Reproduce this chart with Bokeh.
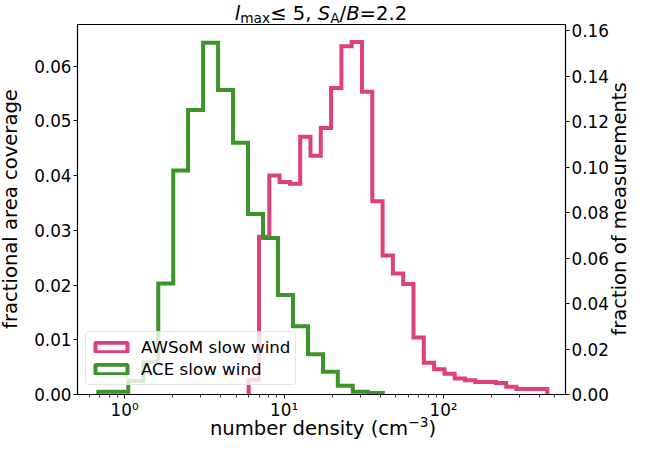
from bokeh.plotting import figure
from bokeh.layouts import row, column
from bokeh.models import (Range1d, LinearAxis, FixedTicker, PrintfTickFormatter,
                          Legend, LegendItem, Div)
from bokeh.embed import file_html
from bokeh.resources import INLINE

# ---------------- data ----------------
ace_edges = [0.684, 0.849, 1.054, 1.309, 1.626, 2.018, 2.500, 3.105, 3.855, 4.786,
             5.943, 7.379, 9.162, 11.38, 14.13, 17.54, 21.73, 26.98, 33.50, 41.59]
ace_fraction = [0.0012, 0.0012, 0.0059, 0.0142, 0.0488, 0.0985, 0.1252, 0.1548, 0.1340,
                0.1108, 0.0794, 0.0688, 0.0438, 0.0300, 0.0177, 0.0100, 0.0039, 0.0012, 0.0007]

awsom_edges = [5.998, 6.961, 8.077, 9.372, 10.87, 12.62, 14.64, 16.99, 19.71, 22.88,
               26.55, 30.81, 35.74, 41.48, 48.13, 55.85, 64.81, 75.20, 87.26, 101.3,
               117.5, 136.3, 158.2, 183.6, 213.0, 247.2, 286.8, 332.8, 386.2, 448.1]
awsom_fraction = [0.0027, 0.0288, 0.0400, 0.0388, 0.0385, 0.0471, 0.0436, 0.0487, 0.0560,
                  0.0636, 0.0644, 0.0553, 0.0353, 0.0254, 0.0221, 0.0202, 0.0104, 0.0058,
                  0.0046, 0.0038, 0.0029, 0.0026, 0.0023, 0.0023, 0.0021, 0.0014, 0.0010,
                  0.0010, 0.0010]

series_labels = ["AWSoM slow wind", "ACE slow wind"]
x_major_ticks = [1.0, 10.0, 100.0]
x_major_labels = ["10\u2070", "10\u00b9", "10\u00b2"]
x_minor_ticks = [0.6, 0.7, 0.8, 0.9, 2, 3, 4, 5, 6, 7, 8, 9,
                 20, 30, 40, 50, 60, 70, 80, 90, 200, 300, 400, 500]
left_ticks = [0.00, 0.01, 0.02, 0.03, 0.04, 0.05, 0.06]
right_ticks = [0.00, 0.02, 0.04, 0.06, 0.08, 0.10, 0.12, 0.14, 0.16]
SUP = '<span style="font-size:0.7em;position:relative;top:-0.6em">'
SUB = '<span style="font-size:0.7em;position:relative;top:2.4px">'
x_label_html = "number density (cm" + SUP + "\u22123</span>)"
left_label = "fractional area coverage"
right_label = "fraction of measurements"
title_html = ("<i>l</i>" + SUB + "max</span>\u2264 5, <i>S</i>" + SUB + "A</span>"
              "/<i>B</i>=2.2")

PINK = "#e0407a"
GREEN = "#3d9428"
FONT = "DejaVu Sans"
CSS_FONT = ("font-family:DejaVu Sans;font-size:19.6px;line-height:19.6px;color:#000;"
            "white-space:nowrap;")

# page geometry (pixels)
TITLE_H, PLOT_H, XLAB_H = 16, 406, 17
LEFT_W, PLOT_W, RIGHT_W = 31, 580, 18
FULL_W = LEFT_W + PLOT_W + RIGHT_W
MID_Y = (24 + 394) / 2 - TITLE_H          # vertical centre of the frame inside the middle row


def step_outline(edges, vals):
    xs, ys = [edges[0]], [0.0]
    for i, v in enumerate(vals):
        xs += [edges[i], edges[i + 1]]
        ys += [v, v]
    xs.append(edges[-1])
    ys.append(0.0)
    return xs, ys


p = figure(width=PLOT_W, height=PLOT_H, x_axis_type="log",
           x_range=Range1d(0.5064, 582.0), y_range=Range1d(0, 0.06759),
           output_backend="svg", toolbar_location=None,
           min_border_left=44, min_border_right=44, min_border_top=24 - TITLE_H,
           min_border_bottom=28)
try:
    p.title = None
except Exception:
    p.title.visible = False
p.extra_y_ranges = {"right": Range1d(0, 0.16278)}
p.xgrid.visible = False
p.ygrid.visible = False
p.outline_line_color = "black"
p.outline_line_width = 1.1
p.background_fill_color = "white"
p.border_fill_alpha = 0.0

ax_, ay_ = step_outline(awsom_edges, awsom_fraction)
p.line(ax_, ay_, line_color=PINK, line_width=4, line_join="miter")
gx_, gy_ = step_outline(ace_edges, ace_fraction)
p.line(gx_, gy_, line_color=GREEN, line_width=4, line_join="miter", y_range_name="right")

right_axis = LinearAxis(y_range_name="right")
p.add_layout(right_axis, "right")

xa = p.xaxis[0]
xa.ticker = FixedTicker(ticks=x_major_ticks, minor_ticks=x_minor_ticks)
xa.major_label_overrides = {t: s for t, s in zip(x_major_ticks, x_major_labels)}

ly = p.yaxis[0]
ly.ticker = FixedTicker(ticks=left_ticks)
ly.formatter = PrintfTickFormatter(format="%.2f")

right_axis.ticker = FixedTicker(ticks=right_ticks)
right_axis.formatter = PrintfTickFormatter(format="%.2f")

for ax in (xa, ly, right_axis):
    ax.axis_label = None
    ax.axis_line_color = "black"
    ax.axis_line_width = 1.1
    ax.major_tick_line_color = "black"
    ax.major_tick_line_width = 1.1
    ax.major_tick_in = 0
    ax.major_tick_out = 4
    ax.minor_tick_in = 0
    ax.minor_tick_out = 3
    ax.minor_tick_line_color = "black"
    ax.minor_tick_line_width = 0.8
    ax.major_label_text_font = FONT
    ax.major_label_text_font_size = "16.8px"
    ax.major_label_text_color = "black"
    ax.major_label_standoff = 2
for ax in (ly, right_axis):
    ax.minor_tick_line_color = None
xa.major_label_standoff = 1

# legend handles: outlined rectangles (renderers hidden, shown only in the legend)
r_p = p.quad(left=awsom_edges[:-1], right=awsom_edges[1:], bottom=0, top=awsom_fraction,
             fill_alpha=0, line_color=PINK, line_width=4, visible=False)
r_g = p.quad(left=ace_edges[:-1], right=ace_edges[1:], bottom=0, top=ace_fraction,
             fill_alpha=0, line_color=GREEN, line_width=4, visible=False,
             y_range_name="right")
legend = Legend(items=[LegendItem(label=series_labels[0], renderers=[r_p]),
                       LegendItem(label=series_labels[1], renderers=[r_g])],
                location=(8, 9), margin=0, padding=5, spacing=2,
                glyph_width=40, glyph_height=12, label_height=20, label_standoff=10,
                label_text_font=FONT, label_text_font_size="16.7px", label_text_color="black",
                border_line_color="#cccccc", border_line_width=1,
                background_fill_color="white", background_fill_alpha=0.8,
                inactive_fill_alpha=0.0)
if "border_radius" in Legend.properties():
    legend.border_radius = 4
p.add_layout(legend)


def box(inner, w, h):
    return Div(text=f'<div style="position:relative;width:{w}px;height:{h}px;overflow:visible">'
                    f'{inner}</div>', width=w, height=h, margin=(0, 0, 0, 0))


def vertical_text(text, x_line_left, w, h):
    # reads bottom-to-top, centred on the plot frame
    return box(f'<span style="position:absolute;left:0;top:0;transform-origin:0 0;'
               f'transform:translate({x_line_left}px,{MID_Y}px) rotate(-90deg) translate(-50%,0);'
               f'{CSS_FONT}">{text}</span>', w, h)


title_div = box(f'<span style="position:absolute;left:321px;top:4.4px;'
                f'transform:translateX(-50%);{CSS_FONT}">{title_html}</span>', FULL_W, TITLE_H)
left_div = vertical_text(left_label, 1.0, LEFT_W, PLOT_H)
right_div = vertical_text(right_label, -0.6, RIGHT_W, PLOT_H)
xlab_div = box(f'<span style="position:absolute;left:323px;top:-2.6px;'
               f'transform:translateX(-50%);{CSS_FONT}">{x_label_html}</span>', FULL_W, XLAB_H)

layout = column(title_div, row(left_div, p, right_div, spacing=0), xlab_div, spacing=0)

open("out.html", "w").write(file_html(layout, INLINE))
